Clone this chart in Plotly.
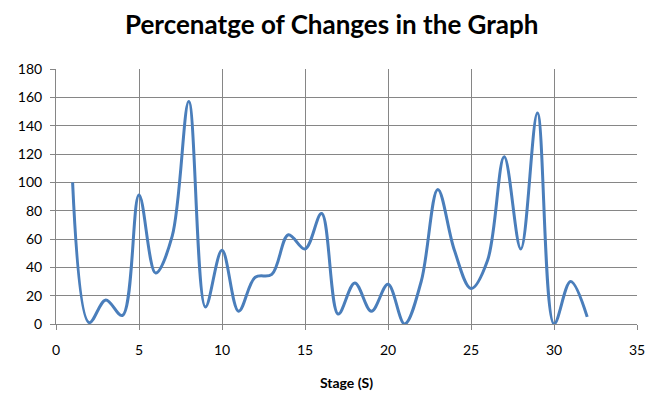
import plotly.graph_objects as go

stages = list(range(1, 33))
changes = [100, 1, 17, 6, 91, 36, 62, 157, 12, 52, 9, 33, 35, 63, 53, 78, 7,
           29, 9, 28, 0, 30, 95, 52, 25, 45, 118, 53, 149, 0, 30, 5]

title_text = "Percenatge of Changes in the Graph"
x_title = "Stage (S)"

FONT = "Lato"
GRID = "#868686"

fig = go.Figure()
fig.add_trace(go.Scatter(
    x=stages, y=changes, mode="lines",
    line=dict(color="#4A7EBB", width=3, shape="spline", smoothing=1.0),
    showlegend=False, hoverinfo="x+y",
))

fig.update_layout(
    width=662, height=400,
    paper_bgcolor="white", plot_bgcolor="white",
    margin=dict(l=48, r=33, t=61, b=84),
    title=dict(text="<b>" + title_text + "</b>", x=0.489, xref="container", xanchor="center",
               y=1 - 17 / 400, yref="container", yanchor="middle",
               font=dict(family=FONT, size=26, color="black")),
    font=dict(family=FONT, size=13, color="black"),
)
fig.update_xaxes(
    range=[0, 35], dtick=5, tick0=0, automargin=False,
    showgrid=True, gridcolor=GRID, gridwidth=1,
    showline=True, linecolor=GRID, linewidth=1,
    ticks="outside", ticklen=5, tickcolor=GRID,
    zeroline=False, ticklabelstandoff=8,
    title=dict(text="<b>" + x_title + "</b>", font=dict(family=FONT, size=14), standoff=21),
    tickfont=dict(family=FONT, size=14),
)
fig.update_yaxes(
    range=[0, 180], dtick=20, tick0=0, automargin=False,
    showgrid=True, gridcolor=GRID, gridwidth=1,
    showline=True, linecolor=GRID, linewidth=1,
    ticks="outside", ticklen=5, tickcolor=GRID,
    zeroline=False, ticklabelstandoff=5,
    tickfont=dict(family=FONT, size=14),
)

fig.write_html("out.html")
